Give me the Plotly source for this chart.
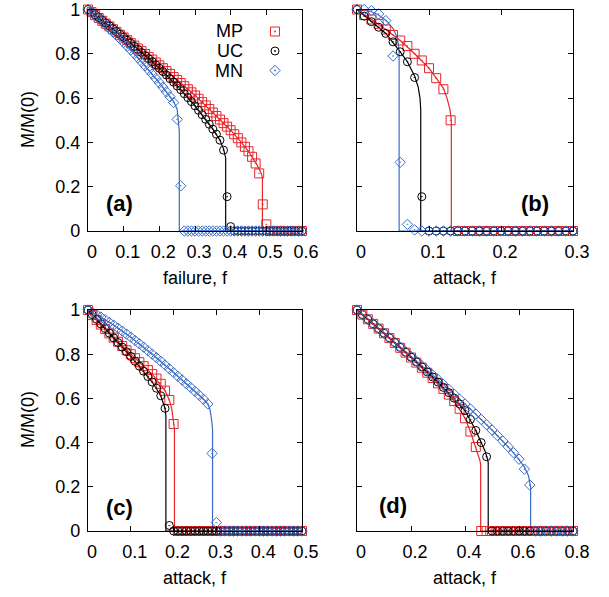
import plotly.graph_objects as go

# ---------------- data ----------------
# panel (a): failure
f_a = [0.00, 0.01, 0.02, 0.03, 0.04, 0.05, 0.06, 0.07, 0.08, 0.09,
       0.10, 0.11, 0.12, 0.13, 0.14, 0.15, 0.16, 0.17, 0.18, 0.19,
       0.20, 0.21, 0.22, 0.23, 0.24, 0.25, 0.26, 0.27, 0.28, 0.29,
       0.30, 0.31, 0.32, 0.33, 0.34, 0.35, 0.36, 0.37, 0.38, 0.39,
       0.40, 0.41, 0.42, 0.43, 0.44, 0.45, 0.46, 0.47, 0.48, 0.49,
       0.50, 0.51, 0.52, 0.53, 0.54, 0.55, 0.56, 0.57, 0.58, 0.59, 0.60]
mp_a = [1.000, .988, .975, .962, .949, .936, .924, .911, .899, .886,
        .874, .862, .849, .837, .824, .812, .799, .786, .774, .761,
        .748, .735, .722, .709, .695, .682, .668, .654, .640, .626,
        .612, .597, .582, .567, .551, .535, .519, .503, .487, .471,
        .455, .437, .419, .400, .380, .360, .335, .305, .260, .120,
        .030, 0, 0, 0, 0, 0, 0, 0, 0, 0, 0]
uc_a = [1.000, .988, .976, .964, .951, .938, .926, .913, .900, .888,
        .875, .861, .848, .834, .820, .806, .792, .778, .764, .750,
        .735, .720, .704, .688, .672, .655, .638, .620, .602, .584,
        .565, .545, .525, .504, .482, .460, .437, .410, .365, .155,
        .020, 0, 0, 0, 0, 0, 0, 0, 0, 0,
        0, 0, 0, 0, 0, 0, 0, 0, 0, 0, 0]
mn_a = [1.000, .986, .972, .958, .944, .929, .914, .899, .883, .867,
        .851, .834, .817, .800, .782, .764, .746, .727, .708, .689,
        .669, .649, .628, .606, .580, .504, .204, 0, 0, 0,
        0, 0, 0, 0, 0, 0, 0, 0, 0, 0,
        0, 0, 0, 0, 0, 0, 0, 0, 0, 0,
        0, 0, 0, 0, 0, 0, 0, 0, 0, 0, 0]
mp_a_line_f = [0, .05, .1, .15, .2, .25, .3, .35, .4, .43, .45, .47, .48, .486, .489, .489, .6]
mp_a_line_m = [1, .936, .874, .812, .748, .682, .612, .535, .455, .40, .36, .31, .28, .26, .24, 0, 0]
uc_a_line_f = [0, .05, .1, .15, .2, .25, .3, .35, .37, .38, .384, .386, .386, .6]
uc_a_line_m = [1, .938, .875, .806, .735, .655, .565, .46, .41, .37, .35, .33, 0, 0]
mn_a_line_f = [0, .05, .1, .15, .2, .23, .24, .25, .254, .256, .256, .6]
mn_a_line_m = [1, .929, .851, .764, .669, .606, .585, .55, .50, .45, 0, 0]

# panel (b): attack
f_b = [0.00, 0.01, 0.02, 0.03, 0.04, 0.05, 0.06, 0.07, 0.08, 0.09,
       0.10, 0.11, 0.12, 0.13, 0.14, 0.15, 0.16, 0.17, 0.18, 0.19,
       0.20, 0.21, 0.22, 0.23, 0.24, 0.25, 0.26, 0.27, 0.28, 0.29, 0.30]
mp_b = [1.0, .975, .955, .935, .91, .885, .86, .835, .80, .77,
        .735, .69, .64, .50, 0, 0, 0, 0, 0, 0,
        0, 0, 0, 0, 0, 0, 0, 0, 0, 0, 0]
uc_b = [1.0, .97, .945, .92, .892, .854, .809, .764, .693, .155,
        0, 0, 0, 0, 0, 0, 0, 0, 0, 0,
        0, 0, 0, 0, 0, 0, 0, 0, 0, 0, 0]
mn_b = [1.0, 1.0, .995, .98, .95, .79, .31, .03, .005, 0,
        0, 0, 0, 0, 0, 0, 0, 0, 0, 0,
        0, 0, 0, 0, 0, 0, 0, 0, 0, 0, 0]
mp_b_line_f = [0, .02, .04, .06, .08, .10, .11, .12, .125, .129, .131, .131, .3]
mp_b_line_m = [1, .955, .91, .86, .80, .735, .69, .645, .60, .55, .50, 0, 0]
uc_b_line_f = [0, .02, .04, .06, .07, .08, .085, .0875, .0885, .0885, .3]
uc_b_line_m = [1, .945, .892, .809, .764, .70, .65, .60, .55, 0, 0]
mn_b_line_f = [0, .01, .02, .03, .04, .05, .055, .0575, .0585, .0585, .3]
mn_b_line_m = [1, .998, .99, .975, .952, .915, .88, .845, .80, 0, 0]

# panel (c): attack
f_c = [0.00, 0.01, 0.02, 0.03, 0.04, 0.05, 0.06, 0.07, 0.08, 0.09,
       0.10, 0.11, 0.12, 0.13, 0.14, 0.15, 0.16, 0.17, 0.18, 0.19,
       0.20, 0.21, 0.22, 0.23, 0.24, 0.25, 0.26, 0.27, 0.28, 0.29,
       0.30, 0.31, 0.32, 0.33, 0.34, 0.35, 0.36, 0.37, 0.38, 0.39,
       0.40, 0.41, 0.42, 0.43, 0.44, 0.45, 0.46, 0.47, 0.48, 0.49, 0.50]
mp_c = [1, .977, .955, .934, .914, .894, .875, .856, .837, .818,
        .80, .782, .764, .746, .728, .71, .69, .666, .635, .593,
        .484, 0, 0, 0, 0, 0, 0, 0, 0, 0,
        0, 0, 0, 0, 0, 0, 0, 0, 0, 0,
        0, 0, 0, 0, 0, 0, 0, 0, 0, 0, 0]
uc_c = [1, .979, .958, .937, .916, .895, .874, .853, .832, .811,
        .79, .768, .746, .723, .699, .674, .646, .612, .555, .025,
        0, 0, 0, 0, 0, 0, 0, 0, 0, 0,
        0, 0, 0, 0, 0, 0, 0, 0, 0, 0,
        0, 0, 0, 0, 0, 0, 0, 0, 0, 0, 0]
mn_c = [1, .99, .979, .968, .956, .944, .931, .918, .905, .891,
        .877, .862, .847, .832, .816, .800, .784, .768, .751, .734,
        .717, .700, .683, .666, .649, .632, .614, .596, .575, .351,
        .038, 0, 0, 0, 0, 0, 0, 0, 0, 0,
        0, 0, 0, 0, 0, 0, 0, 0, 0, 0, 0]
mp_c_line_f = [0, .05, .1, .15, .18, .19, .196, .199, .201, .202, .202, .5]
mp_c_line_m = [1, .894, .80, .71, .635, .593, .55, .51, .48, .46, 0, 0]
uc_c_line_f = [0, .05, .1, .15, .17, .18, .182, .182, .5]
uc_c_line_m = [1, .895, .79, .674, .612, .555, .52, 0, 0]
mn_c_line_f = [0, .05, .1, .15, .2, .25, .27, .28, .285, .289, .291, .291, .5]
mn_c_line_m = [1, .944, .877, .80, .717, .632, .596, .575, .55, .50, .46, 0, 0]

# panel (d): attack
f_d = [0.00, 0.02, 0.04, 0.06, 0.08, 0.10, 0.12, 0.14, 0.16, 0.18,
       0.20, 0.22, 0.24, 0.26, 0.28, 0.30, 0.32, 0.34, 0.36, 0.38,
       0.40, 0.42, 0.44, 0.46, 0.48, 0.50, 0.52, 0.54, 0.56, 0.58,
       0.60, 0.62, 0.64, 0.66, 0.68, 0.70, 0.72, 0.74, 0.76, 0.78, 0.80]
mp_d = [1, .979, .958, .937, .916, .895, .873, .851, .829, .807,
        .785, .762, .739, .716, .692, .668, .643, .617, .588, .553,
        .51, .45, .38, 0, 0, 0, 0, 0, 0, 0,
        0, 0, 0, 0, 0, 0, 0, 0, 0, 0, 0]
uc_d = [1, .979, .958, .937, .916, .895, .874, .853, .831, .809,
        .787, .765, .743, .72, .697, .674, .65, .626, .601, .575,
        .545, .505, .455, .40, .336, 0, 0, 0, 0, 0,
        0, 0, 0, 0, 0, 0, 0, 0, 0, 0, 0]
mn_d = [1, .979, .958, .937, .916, .895, .874, .853, .832, .811,
        .79, .769, .748, .727, .706, .685, .663, .641, .619, .597,
        .575, .552, .529, .505, .481, .457, .432, .407, .381, .354,
        .325, .28, .208, 0, 0, 0, 0, 0, 0, 0, 0]
mp_d_line_f = [0, .1, .2, .3, .36, .4, .42, .44, .45, .455, .458, .458, .8]
mp_d_line_m = [1, .895, .785, .668, .588, .51, .45, .38, .34, .32, .30, 0, 0]
uc_d_line_f = [0, .1, .2, .3, .4, .44, .46, .475, .482, .486, .486, .8]
uc_d_line_m = [1, .895, .787, .674, .545, .455, .40, .36, .33, .31, 0, 0]
mn_d_line_f = [0, .1, .2, .3, .4, .5, .58, .62, .635, .64, .643, .643, .8]
mn_d_line_m = [1, .895, .79, .685, .575, .457, .354, .29, .25, .22, .20, 0, 0]

series_names = ["MP", "UC", "MN"]
x_titles = ["failure, f", "attack, f", "attack, f", "attack, f"]
panel_labels = ["(a)", "(b)", "(c)", "(d)"]
x_ranges = [0.6, 0.3, 0.5, 0.8]
x_dticks = [0.1, 0.1, 0.1, 0.2]
y_ticks = [0, 0.2, 0.4, 0.6, 0.8, 1]

# ---------------- style ----------------
RED = "#e8262b"
BLACK = "#000000"
BLUE = "#3a6cc6"
colors = [RED, BLACK, BLUE]
symbols = ["square-open-dot", "circle-open-dot", "diamond-open-dot"]
sizes = [9, 8, 8]
FONT = "Liberation Sans, Arial, Helvetica, sans-serif"
W, H = 609, 597

def px(x):
    return x / W

def py(y):
    return 1 - y / H

panels = [
    (f_a, [mp_a, uc_a, mn_a], [(mp_a_line_f, mp_a_line_m), (uc_a_line_f, uc_a_line_m), (mn_a_line_f, mn_a_line_m)]),
    (f_b, [mp_b, uc_b, mn_b], [(mp_b_line_f, mp_b_line_m), (uc_b_line_f, uc_b_line_m), (mn_b_line_f, mn_b_line_m)]),
    (f_c, [mp_c, uc_c, mn_c], [(mp_c_line_f, mp_c_line_m), (uc_c_line_f, uc_c_line_m), (mn_c_line_f, mn_c_line_m)]),
    (f_d, [mp_d, uc_d, mn_d], [(mp_d_line_f, mp_d_line_m), (uc_d_line_f, uc_d_line_m), (mn_d_line_f, mn_d_line_m)]),
]

# pixel boxes of the four frames: (left, right, top, bottom)
boxes = [(88, 302, 9.5, 231), (357, 573, 9.5, 231), (88, 302, 310, 531), (357, 573, 310, 531)]

fig = go.Figure()
for i, (fx, ys, lines) in enumerate(panels):
    xa = "x" if i == 0 else f"x{i+1}"
    ya = "y" if i == 0 else f"y{i+1}"
    for k in range(3):
        lf, lm = lines[k]
        fig.add_trace(go.Scatter(x=lf, y=lm, mode="lines", xaxis=xa, yaxis=ya,
                                 line=dict(color=colors[k], width=1.2),
                                 showlegend=False, cliponaxis=False, hoverinfo="skip"))
    for k in range(3):
        fig.add_trace(go.Scatter(x=fx, y=ys[k], mode="markers", xaxis=xa, yaxis=ya,
                                 name=series_names[k],
                                 marker=dict(symbol=symbols[k], size=sizes[k], color=colors[k],
                                             line=dict(color=colors[k], width=1)),
                                 showlegend=False, cliponaxis=False))

axis_common = dict(showline=True, linecolor="black", linewidth=1.3, mirror="ticks",
                   ticks="inside", ticklen=5, tickwidth=1, tickcolor="black",
                   showgrid=False, zeroline=False, automargin=False,
                   ticklabeloverflow="allow",
                   tickfont=dict(family=FONT, size=18, color="black"))

layout = dict(template="none", width=W, height=H,
              margin=dict(l=0, r=0, t=0, b=0, pad=0, autoexpand=False),
              paper_bgcolor="white", plot_bgcolor="white", showlegend=False,
              font=dict(family=FONT, size=18, color="black"))
for i in range(4):
    l, r, t, b = boxes[i]
    sx = "" if i == 0 else str(i + 1)
    layout["xaxis" + sx] = dict(axis_common, domain=[px(l), px(r)], range=[0, x_ranges[i]],
                                tickmode="linear", tick0=0, dtick=x_dticks[i],
                                anchor="y" + sx, ticklabelshift=4, ticklabelstandoff=4)
    layout["yaxis" + sx] = dict(axis_common, domain=[py(b), py(t)], range=[0, 1],
                                tickmode="array", tickvals=y_ticks,
                                anchor="x" + sx, showticklabels=(i % 2 == 0),
                                ticklabelstandoff=3)
fig.update_layout(**layout)

ann = []
for i in range(4):
    l, r, t, b = boxes[i]
    ann.append(dict(x=px((l + r) / 2), y=py(b + 47), xref="paper", yref="paper",
                    text=x_titles[i], showarrow=False, xanchor="center", yanchor="middle",
                    font=dict(family=FONT, size=18, color="black")))
for yc in [120, 420]:
    ann.append(dict(x=px(28), y=py(yc), xref="paper", yref="paper", text="M/M(0)",
                    textangle=-90, showarrow=False, xanchor="center", yanchor="middle",
                    font=dict(family=FONT, size=18, color="black")))
label_pos = [(119, 204), (535, 204), (119, 507), (393, 505)]
for i in range(4):
    ann.append(dict(x=px(label_pos[i][0]), y=py(label_pos[i][1]), xref="paper", yref="paper",
                    text="<b>" + panel_labels[i] + "</b>", showarrow=False,
                    xanchor="center", yanchor="middle",
                    font=dict(family=FONT, size=22, color="black")))
legend_y = [31.5, 51, 70.5]
for k in range(3):
    ann.append(dict(x=px(245), y=py(legend_y[k]), xref="paper", yref="paper",
                    text=series_names[k], showarrow=False, xanchor="right", yanchor="middle",
                    font=dict(family=FONT, size=18, color="black")))
fig.update_layout(annotations=ann)

# legend keys drawn as shapes in pixel space
lx = 275
shapes = []
s = 4.5
shapes.append(dict(type="rect", xref="paper", yref="paper",
                   x0=px(lx - s), x1=px(lx + s), y0=py(legend_y[0] + s), y1=py(legend_y[0] - s),
                   line=dict(color=RED, width=1)))
c = 4
shapes.append(dict(type="circle", xref="paper", yref="paper",
                   x0=px(lx - c), x1=px(lx + c), y0=py(legend_y[1] + c), y1=py(legend_y[1] - c),
                   line=dict(color=BLACK, width=1)))
d = 5.2
yk = legend_y[2]
shapes.append(dict(type="path", xref="paper", yref="paper",
                   path=f"M {px(lx)} {py(yk - d)} L {px(lx + d)} {py(yk)} L {px(lx)} {py(yk + d)} L {px(lx - d)} {py(yk)} Z",
                   line=dict(color=BLUE, width=1)))
for k in range(3):
    shapes.append(dict(type="circle", xref="paper", yref="paper",
                       x0=px(lx - 0.7), x1=px(lx + 0.7), y0=py(legend_y[k] + 0.7), y1=py(legend_y[k] - 0.7),
                       line=dict(color=colors[k], width=0.6), fillcolor=colors[k]))
fig.update_layout(shapes=shapes)

fig.write_html("out.html")
